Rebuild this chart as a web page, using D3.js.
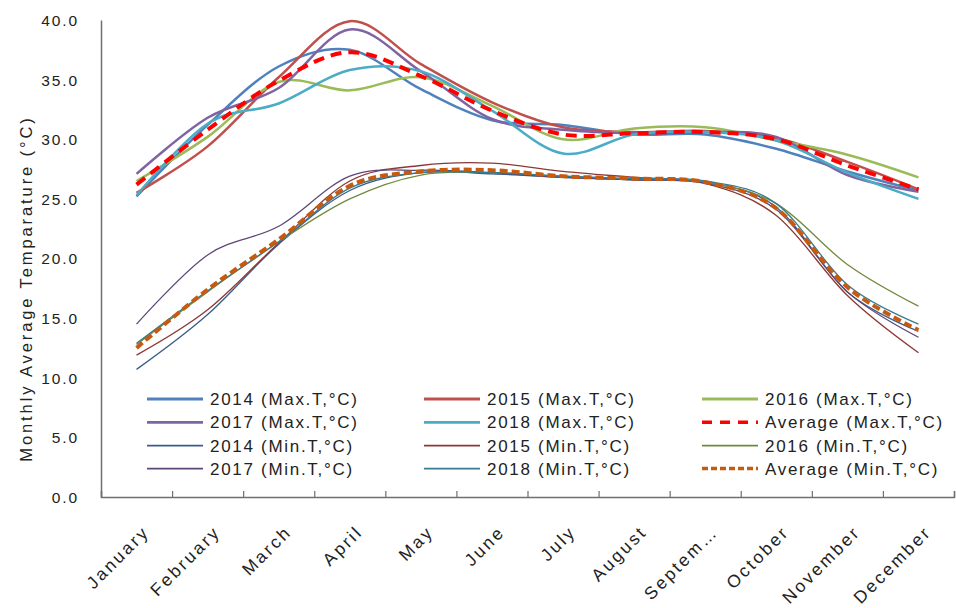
<!DOCTYPE html>
<html>
<head>
<meta charset="utf-8">
<script src="https://cdn.jsdelivr.net/npm/d3@7"></script>
<style>
  body { margin: 0; background: #fff; }
  svg { font-family: "Liberation Sans", Arial, sans-serif; }
  .ejes text { fill: #222; font-size: 15.5px; letter-spacing: 1.9px; }
  .mes { fill: #222; font-size: 17.5px; letter-spacing: 2.6px; }
  .leyenda text { fill: #222; font-size: 17px; letter-spacing: 1.7px; }
</style>
</head>
<body>
<div id="graf"></div>
<script>
const months = ["January", "February", "March", "April", "May", "June", "July",
  "August", "Septem\u2026", "October", "November", "December"]
const yTicks = [0, 5, 10, 15, 20, 25, 30, 35, 40]

const max2014 = [25.2, 31.2, 36.1, 37.5, 34.2, 31.6, 31.2, 30.4, 30.4, 29.2, 27.3, 25.7]
const max2015 = [25.5, 29.4, 35.2, 39.9, 36.3, 33.1, 31.0, 30.6, 30.7, 30.1, 28.1, 25.8]
const max2016 = [26.5, 30.2, 34.8, 34.1, 35.2, 32.8, 30.0, 30.9, 31.0, 29.9, 28.7, 26.8]
const max2017 = [27.1, 31.8, 34.3, 39.2, 35.7, 31.7, 30.8, 30.5, 30.6, 30.2, 27.0, 25.6]
const max2018 = [25.3, 31.3, 33.0, 35.8, 35.7, 32.4, 28.8, 30.4, 30.6, 29.9, 27.2, 25.0]
const maxAvg = [26.2, 30.8, 34.9, 37.3, 35.3, 32.4, 30.4, 30.5, 30.6, 30.0, 27.8, 25.8]

const min2014 = [10.7, 15.3, 21.2, 25.7, 27.2, 27.1, 26.8, 26.6, 26.4, 24.3, 17.2, 13.9]
const min2015 = [11.9, 15.7, 21.3, 26.5, 27.8, 28.0, 27.3, 26.8, 26.3, 23.6, 16.9, 12.1]
const min2016 = [12.8, 17.2, 21.4, 25.0, 27.0, 27.2, 26.9, 26.6, 26.4, 24.6, 19.5, 16.0]
const min2017 = [14.5, 20.3, 22.7, 26.9, 27.4, 27.2, 26.8, 26.6, 26.3, 24.1, 17.2, 13.4]
const min2018 = [12.9, 17.3, 21.4, 25.9, 27.2, 27.2, 26.9, 26.7, 26.5, 24.6, 17.8, 14.5]
const minAvg = [12.5, 17.4, 21.6, 26.1, 27.3, 27.4, 26.9, 26.7, 26.4, 24.2, 17.6, 14.0]

const series = [
  { name: "2014 (Max.T,\u00b0C)", values: max2014, color: "#4f81bd", width: 2.5, dash: null },
  { name: "2015 (Max.T,\u00b0C)", values: max2015, color: "#c0504d", width: 2.5, dash: null },
  { name: "2016 (Max.T,\u00b0C)", values: max2016, color: "#9bbb59", width: 2.5, dash: null },
  { name: "2017 (Max.T,\u00b0C)", values: max2017, color: "#8064a2", width: 2.5, dash: null },
  { name: "2018 (Max.T,\u00b0C)", values: max2018, color: "#4bacc6", width: 2.5, dash: null },
  { name: "Average (Max.T,\u00b0C)", values: maxAvg, color: "#ff0000", width: 4, dash: "11,7" },
  { name: "2014 (Min.T,\u00b0C)", values: min2014, color: "#385d8a", width: 1.3, dash: null },
  { name: "2015 (Min.T,\u00b0C)", values: min2015, color: "#8c3836", width: 1.3, dash: null },
  { name: "2016 (Min.T,\u00b0C)", values: min2016, color: "#71893f", width: 1.3, dash: null },
  { name: "2017 (Min.T,\u00b0C)", values: min2017, color: "#5c4776", width: 1.3, dash: null },
  { name: "2018 (Min.T,\u00b0C)", values: min2018, color: "#357d91", width: 1.3, dash: null },
  { name: "Average (Min.T,\u00b0C)", values: minAvg, color: "#c55a11", width: 4, dash: "8,4" }
]

const anchoTotal = 956
const altoTotal = 608
const margins = { left: 101, top: 20, right: 2, bottom: 111 }

const svg = d3.select("#graf")
  .append("svg")
  .attr("width", anchoTotal)
  .attr("height", altoTotal)

const x = d3.scaleBand().domain(months).range([margins.left, anchoTotal - margins.right])
const xEdge = d3.scaleLinear().domain([0, months.length]).range(x.range())
const y = d3.scaleLinear().domain([0, 40]).range([altoTotal - margins.bottom, margins.top])
const cx = (m) => x(m) + x.bandwidth() / 2

// eje y
const yAxis = d3.axisLeft(y).tickValues(yTicks).tickFormat(d3.format(".1f"))
  .tickSize(0).tickPadding(22)
const gy = svg.append("g").attr("class", "ejes")
  .attr("transform", `translate(${margins.left},0)`)
  .call(yAxis)
gy.select(".domain").attr("stroke", "#6f6f6f").attr("stroke-width", 1.5)
gy.selectAll("text").attr("dy", "0.35em")

svg.append("text")
  .attr("transform", `translate(32, ${(y(40) + y(0)) / 2 + 30}) rotate(-90)`)
  .attr("text-anchor", "middle")
  .attr("fill", "#222")
  .style("font-size", "16.5px")
  .style("letter-spacing", "2.9px")
  .text("Monthly Average Temparature (\u00b0C)")

// eje x
const xAxis = d3.axisBottom(xEdge).ticks(months.length).tickSize(-6).tickFormat("")
const gx = svg.append("g").attr("class", "ejes")
  .attr("transform", `translate(0, ${y(0)})`)
  .call(xAxis)
gx.select(".domain").attr("stroke", "#6f6f6f").attr("stroke-width", 1.5)
gx.selectAll(".tick line").attr("stroke", "#6f6f6f").attr("stroke-width", 1.2)

svg.append("g").selectAll("text")
  .data(months)
  .enter()
  .append("text")
  .attr("class", "mes")
  .attr("text-anchor", "end")
  .attr("transform", (d) => `translate(${cx(d) + 14}, ${y(0) + 36}) rotate(-45)`)
  .text((d) => d)

// lineas
const line = d3.line()
  .x((d, i) => cx(months[i]))
  .y((d) => y(d))
  .curve(d3.curveCardinal.tension(0))

svg.append("g").selectAll("path")
  .data(series)
  .enter()
  .append("path")
  .attr("d", (d) => line(d.values))
  .attr("fill", "none")
  .attr("stroke", (d) => d.color)
  .attr("stroke-width", (d) => d.width)
  .attr("stroke-dasharray", (d) => d.dash)

// leyenda
const colX = [147, 424, 702]
const rowY = [399, 422.3, 445.6, 468.6]
const ley = svg.append("g").attr("class", "leyenda")
  .selectAll("g")
  .data(series)
  .enter()
  .append("g")
  .attr("transform", (d, i) => `translate(${colX[i % 3]}, ${rowY[Math.floor(i / 3)]})`)

ley.append("line")
  .attr("x1", 0)
  .attr("x2", 56)
  .attr("stroke", (d) => d.color)
  .attr("stroke-width", (d) => (d.dash ? 3.5 : d.width + 0.3))
  .attr("stroke-dasharray", (d) => (d.dash ? (d.color == "#ff0000" ? "10,8" : "6,3") : null))

ley.append("text")
  .attr("x", 63)
  .attr("dy", "0.36em")
  .text((d) => d.name)
</script>
</body>
</html>
